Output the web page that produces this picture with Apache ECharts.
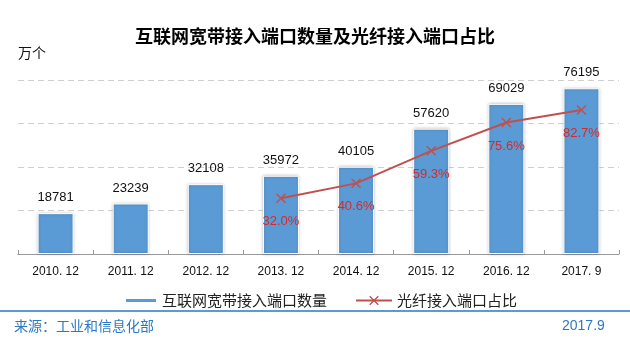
<!DOCTYPE html>
<html>
<head>
<meta charset="utf-8">
<script src="https://cdn.jsdelivr.net/npm/echarts@6/dist/echarts.min.js"></script>
<style>
  html, body { margin: 0; padding: 0; background: #fff; }
  #chart { width: 630px; height: 347px; }
</style>
</head>
<body>
<div id="chart"></div>
<script>
// Broadband access ports (10k units) and share of fibre ports
const categories = ['2010. 12', '2011. 12', '2012. 12', '2013. 12', '2014. 12', '2015. 12', '2016. 12', '2017. 9'];
const portCounts = [18781, 23239, 32108, 35972, 40105, 57620, 69029, 76195];
const fibreShare = [null, null, null, 32.0, 40.6, 59.3, 75.6, 82.7];

const barName = '互联网宽带接入端口数量';
const lineName = '光纤接入端口占比';

const FONT = '"Liberation Sans", Arial, "Noto Sans CJK SC", sans-serif';
const CJK = '"Noto Sans CJK SC", "Liberation Sans", sans-serif';
const crossIcon = 'path://M0,1L1,0L5,4L9,0L10,1L6,5L10,9L9,10L5,6L1,10L0,9L4,5Z';
const legendText = { fontFamily: CJK, fontSize: 15, color: '#222' };

const chart = echarts.init(document.getElementById('chart'), null, { renderer: 'canvas' });

chart.setOption({
  animation: false,
  backgroundColor: '#fff',
  textStyle: { fontFamily: FONT },
  title: {
    text: '互联网宽带接入端口数量及光纤接入端口占比',
    left: 'center',
    top: 22,
    textStyle: { fontFamily: CJK, fontSize: 18, fontWeight: 'bold', color: '#000' }
  },
  legend: [
    {
      top: 288,
      left: 119,
      itemWidth: 32,
      itemHeight: 5,
      itemGap: 0,
      textStyle: legendText,
      data: [{ name: barName, icon: 'rect' }]
    },
    {
      top: 288,
      left: 350,
      itemWidth: 36,
      itemHeight: 12,
      textStyle: legendText,
      data: [{ name: lineName }]
    }
  ],
  grid: { left: 18, right: 11, top: 80, bottom: 93 },
  xAxis: {
    type: 'category',
    data: categories,
    boundaryGap: true,
    axisLine: { lineStyle: { color: '#999', width: 1 } },
    axisTick: { show: true, inside: true, length: 4, lineStyle: { color: '#999' } },
    axisLabel: { fontSize: 12, color: '#111', margin: 12, fontFamily: FONT }
  },
  yAxis: [
    {
      type: 'value',
      min: 0,
      max: 80000,
      interval: 20000,
      axisLabel: { show: false },
      axisLine: { show: false },
      axisTick: { show: false },
      splitLine: { lineStyle: { color: '#cfcfcf', type: [6, 4], width: 1 } }
    },
    {
      type: 'value',
      min: 0,
      max: 100,
      show: false,
      splitLine: { show: false }
    }
  ],
  series: [
    {
      name: barName,
      type: 'bar',
      data: portCounts,
      barWidth: 36,
      itemStyle: {
        color: '#5B9BD5',
        borderColor: '#ffffff',
        borderWidth: 1,
        shadowBlur: 3,
        shadowColor: 'rgba(0,0,0,0.25)'
      },
      label: {
        show: true,
        position: 'top',
        distance: 9,
        fontSize: 13,
        color: '#111',
        fontFamily: FONT
      },
      z: 2
    },
    {
      name: lineName,
      type: 'line',
      yAxisIndex: 1,
      data: fibreShare,
      symbol: crossIcon,
      symbolSize: 10,
      lineStyle: { color: '#C0504D', width: 2 },
      itemStyle: { color: '#C0504D' },
      label: {
        show: true,
        position: 'bottom',
        distance: 12,
        fontSize: 13,
        color: '#D02C2C',
        fontFamily: FONT,
        formatter: p => p.value.toFixed(1) + '%'
      },
      z: 3
    }
  ],
  graphic: [
    {
      type: 'text',
      left: 18,
      top: 46,
      style: { text: '万个', font: '14px ' + CJK, fill: '#111' }
    },
    {
      type: 'rect',
      shape: { x: 0, y: 310, width: 630, height: 2 },
      style: { fill: '#5B9BD5' }
    },
    {
      type: 'text',
      left: 14,
      top: 319,
      style: { text: '来源：工业和信息化部', font: '14px ' + CJK, fill: '#2A78C6' }
    },
    {
      type: 'text',
      left: 562,
      top: 319,
      style: { text: '2017.9', font: '14px ' + FONT, fill: '#2A78C6' }
    }
  ]
});
</script>
</body>
</html>
